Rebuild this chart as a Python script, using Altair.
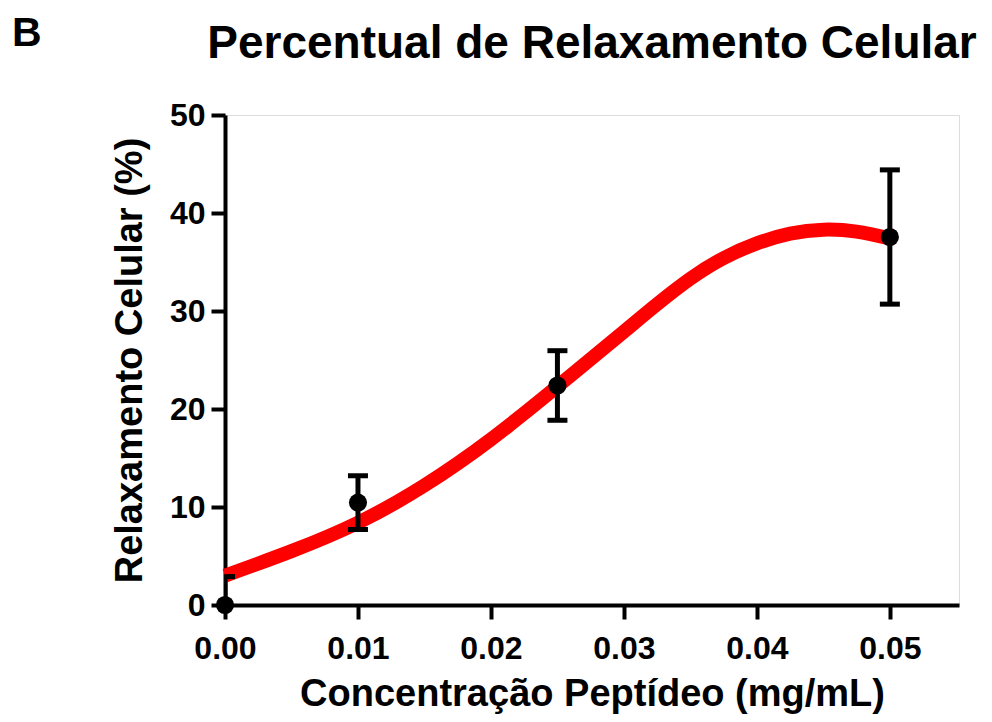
import altair as alt
import pandas as pd

# Data points (mean ± error)
conc = [0.0, 0.01, 0.025, 0.05]
mean = [0.0, 10.45, 22.4, 37.55]
err = [2.9, 2.75, 3.55, 6.85]

# Fitted curve
curve_x = [0.0, 0.005, 0.01, 0.015, 0.02, 0.025, 0.03, 0.0325, 0.035, 0.0375,
           0.04, 0.0425, 0.045, 0.0475, 0.05]
curve_y = [3.0, 5.5, 8.4, 12.2, 16.9, 22.3, 27.9, 30.7, 33.3, 35.4,
           36.9, 37.9, 38.3, 38.1, 37.4]

x_ticks = [0.0, 0.01, 0.02, 0.03, 0.04, 0.05]
y_ticks = [0, 10, 20, 30, 40, 50]

title_text = "Percentual de Relaxamento Celular"
panel_text = "B"

pts = pd.DataFrame({"x": conc, "y": mean, "e": err})
pts["lo"] = pts["y"] - pts["e"]
pts["hi"] = pts["y"] + pts["e"]
curve = pd.DataFrame({"x": curve_x, "y": curve_y})

FONT = "Liberation Sans"

xs = alt.Scale(domain=[0, 0.0552], nice=False, zero=False)
ys = alt.Scale(domain=[0, 50], nice=False)

xaxis = alt.Axis(values=x_ticks, format=".2f", title="Concentração Peptídeo (mg/mL)",
                 grid=False, labelFontSize=32, labelFont=FONT, labelFontWeight="bold",
                 labelColor="black", tickSize=14, tickWidth=4, tickColor="black",
                 domainWidth=4, domainColor="black", labelPadding=14,
                 titleFontSize=38, titleFont=FONT, titleFontWeight="bold",
                 titleColor="black", titlePadding=11, labelFlush=False)
yaxis = alt.Axis(values=y_ticks, title="Relaxamento Celular (%)",
                 grid=False, labelFontSize=32, labelFont=FONT, labelFontWeight="bold",
                 labelColor="black", tickSize=14, tickWidth=4, tickColor="black",
                 domainWidth=4, domainColor="black", labelPadding=6,
                 titleFontSize=38, titleFont=FONT, titleFontWeight="bold",
                 titleColor="black", titlePadding=20, labelFlush=False)

line = alt.Chart(curve).mark_line(color="#ff0000", strokeWidth=14,
                                  interpolate="natural", strokeCap="butt").encode(
    x=alt.X("x:Q", scale=xs, axis=xaxis),
    y=alt.Y("y:Q", scale=ys, axis=yaxis),
)

bars = alt.Chart(pts).mark_rule(color="black", strokeWidth=5, clip=True).encode(
    x="x:Q", y="lo:Q", y2="hi:Q"
)
cap_hi = alt.Chart(pts).mark_tick(color="black", thickness=5, size=20, opacity=1,
                                  orient="horizontal", clip=True).encode(
    x="x:Q", y="hi:Q"
)
cap_lo = alt.Chart(pts).mark_tick(color="black", thickness=5, size=20, opacity=1,
                                  orient="horizontal", clip=True).encode(
    x="x:Q", y="lo:Q"
)
dots = alt.Chart(pts).mark_point(filled=True, color="black", size=330,
                                 opacity=1, shape="circle").encode(
    x="x:Q", y="y:Q"
)

panel = alt.Chart(pd.DataFrame({"t": [panel_text]})).mark_text(
    font=FONT, fontSize=41, fontWeight="bold", color="black",
    align="left", baseline="alphabetic"
).encode(x=alt.value(-213), y=alt.value(-69), text="t:N")

title = alt.Chart(pd.DataFrame({"t": [title_text]})).mark_text(
    font=FONT, fontSize=46, fontWeight="bold", color="black",
    align="center", baseline="alphabetic"
).encode(x=alt.value(367), y=alt.value(-57), text="t:N")

chart = alt.layer(line, bars, cap_hi, cap_lo, dots, panel, title).properties(
    width=734, height=490,
    autosize=alt.AutoSizeParams(type="none"),
    padding={"left": 217, "top": 107, "right": 25, "bottom": 109},
).configure_view(stroke=None).configure(background="white")

chart.save("out.html", embed_options={"renderer": "svg", "actions": False})
